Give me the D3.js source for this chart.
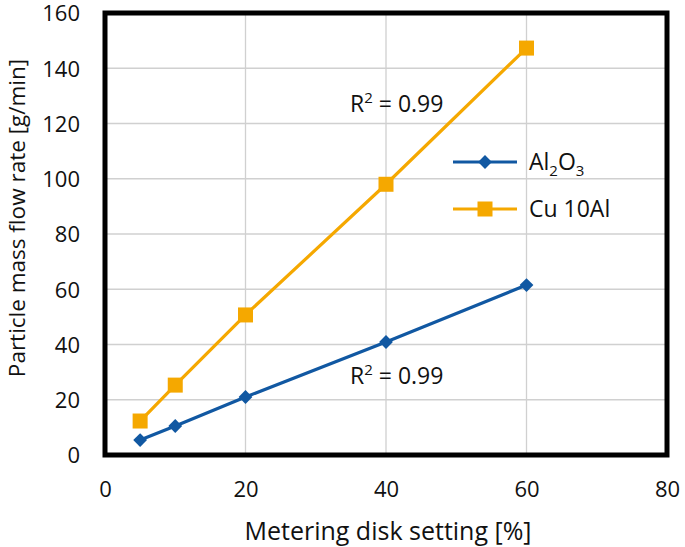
<!DOCTYPE html>
<html><head><meta charset="utf-8">
<script src="https://cdn.jsdelivr.net/npm/d3@7"></script>
<style>body{margin:0;background:#fff;} text{font-family:"Open Sans",sans-serif;fill:#111;}</style>
</head><body>
<svg id="c" width="685" height="547"></svg>
<script>
const xSetting = [5, 10, 20, 40, 60];
const al2o3 = [5.4, 10.5, 21.0, 40.9, 61.5];
const cu10al = [12.3, 25.3, 50.7, 98.0, 147.3];
const xTicks = [0, 20, 40, 60, 80];
const yTicks = [0, 20, 40, 60, 80, 100, 120, 140, 160];
const r2Labels = ["0.99", "0.99"];

const svg = d3.select("#c");
const L = 105, R = 667, T = 13, B = 455;
const x = d3.scaleLinear().domain([0, 80]).range([L, R]);
const y = d3.scaleLinear().domain([0, 160]).range([B, T]);
const blue = "#1158a2", orange = "#f5a800";

// grid
svg.append("g").selectAll("line").data(yTicks.slice(1, -1)).join("line")
  .attr("x1", L).attr("x2", R).attr("y1", d => y(d)).attr("y2", d => y(d))
  .attr("stroke", "#d0d0d0").attr("stroke-width", 1.3);
svg.append("g").selectAll("line").data(xTicks.slice(1, -1)).join("line")
  .attr("y1", T).attr("y2", B).attr("x1", d => x(d)).attr("x2", d => x(d))
  .attr("stroke", "#d0d0d0").attr("stroke-width", 1.3);

// axes labels
const yAxis = d3.axisLeft(y).tickValues(yTicks).tickSize(0).tickPadding(25);
const gy = svg.append("g").attr("transform", `translate(${L},0)`).call(yAxis);
gy.select(".domain").remove();
gy.selectAll("text").style("font-size", "22px").attr("fill", "#111").attr("dy", "0.36em");
const xAxis = d3.axisBottom(x).tickValues(xTicks).tickSize(0).tickPadding(26);
const gx = svg.append("g").attr("transform", `translate(0,${B})`).call(xAxis);
gx.select(".domain").remove();
gx.selectAll("text").style("font-size", "22px").attr("fill", "#111");

// lines
const line = d3.line().x((d, i) => x(xSetting[i])).y(d => y(d));
svg.append("path").datum(al2o3).attr("d", line).attr("fill", "none").attr("stroke", blue).attr("stroke-width", 3.2);
svg.append("path").datum(cu10al).attr("d", line).attr("fill", "none").attr("stroke", orange).attr("stroke-width", 3.2);

const diamond = d3.symbol().type(d3.symbolSquare).size(95);
svg.append("g").selectAll("path").data(al2o3).join("path")
  .attr("d", diamond())
  .attr("transform", (d, i) => `translate(${x(xSetting[i])},${y(d)}) rotate(45)`)
  .attr("fill", blue);
svg.append("g").selectAll("rect").data(cu10al).join("rect")
  .attr("x", (d, i) => x(xSetting[i]) - 7.5).attr("y", d => y(d) - 7.5)
  .attr("width", 15).attr("height", 15).attr("fill", orange);

// frame
svg.append("rect").attr("x", L).attr("y", T).attr("width", R - L).attr("height", B - T)
  .attr("fill", "none").attr("stroke", "#000").attr("stroke-width", 5);

// R2 labels
function r2(xp, yp, v) {
  const t = svg.append("text").attr("x", xp).attr("y", yp).style("font-size", "23px");
  t.append("tspan").text("R");
  t.append("tspan").attr("dy", -9).style("font-size", "15px").text("2");
  t.append("tspan").attr("dy", 9).text(" = " + v);
}
r2(350, 112, r2Labels[0]);
r2(350, 384, r2Labels[1]);

// legend
const leg = [{name: "Al", c: blue, sym: "d", y: 162}, {name: "Cu 10Al", c: orange, sym: "s", y: 209}];
leg.forEach(l => {
  svg.append("line").attr("x1", 453).attr("x2", 517).attr("y1", l.y).attr("y2", l.y).attr("stroke", l.c).attr("stroke-width", 3.2);
  if (l.sym === "d") {
    svg.append("path").attr("d", diamond()).attr("transform", `translate(485,${l.y}) rotate(45)`).attr("fill", l.c);
    const t = svg.append("text").attr("x", 529).attr("y", l.y + 8).style("font-size", "23px");
    t.append("tspan").text("Al");
    t.append("tspan").attr("dy", 6).style("font-size", "15px").text("2");
    t.append("tspan").attr("dy", -6).text("O");
    t.append("tspan").attr("dy", 6).style("font-size", "15px").text("3");
  } else {
    svg.append("rect").attr("x", 477.5).attr("y", l.y - 7.5).attr("width", 15).attr("height", 15).attr("fill", l.c);
    svg.append("text").attr("x", 529).attr("y", l.y + 8).style("font-size", "23px").text(l.name);
  }
});

// axis titles
svg.append("text").attr("x", 388).attr("y", 540).attr("text-anchor", "middle").style("font-size", "25px")
  .text("Metering disk setting [%]");
svg.append("text").attr("transform", "translate(25,218) rotate(-90)").attr("text-anchor", "middle").style("font-size", "22.5px")
  .text("Particle mass flow rate [g/min]");
</script>
</body></html>
